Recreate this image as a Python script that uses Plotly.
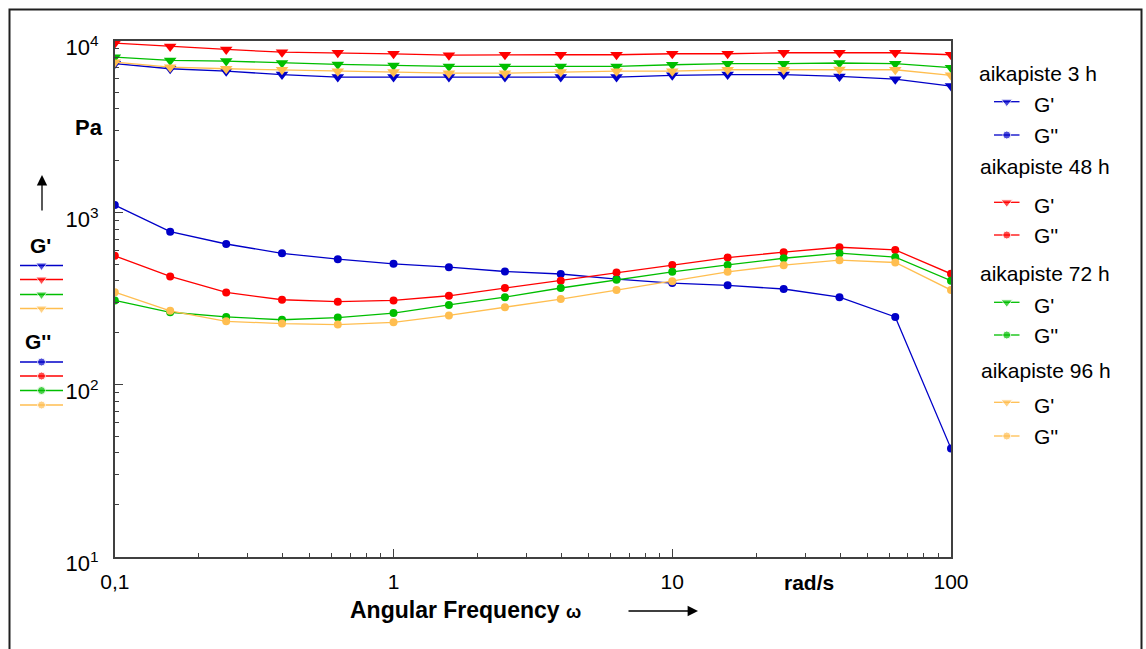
import plotly.graph_objects as go

# ---- data ----
freq = [0.1, 0.158, 0.251, 0.398, 0.631, 1.0, 1.58, 2.51, 3.98, 6.31,
        10.0, 15.8, 25.1, 39.8, 63.1, 100.0]

gp_3h = [7330, 6850, 6630, 6340, 6125, 6125, 6125, 6125, 6125, 6125,
         6270, 6340, 6340, 6180, 5960, 5430]
gpp_3h = [1105, 774, 656, 579, 535, 503, 481, 454, 439, 410,
          389, 377, 359, 322, 247, 42.4]
gp_48h = [9650, 9230, 8870, 8550, 8490, 8370, 8220, 8265, 8265, 8265,
          8374, 8374, 8490, 8490, 8490, 8265]
gpp_48h = [560, 425, 343, 311, 303, 308, 328, 364, 401, 448,
           496, 547, 588, 628, 606, 440]
gp_72h = [8000, 7660, 7590, 7390, 7260, 7160, 7070, 7070, 7070, 7070,
          7230, 7330, 7330, 7400, 7330, 6950]
gpp_72h = [308, 263, 247, 238, 245, 260, 290, 322, 364, 407,
           452, 496, 542, 580, 550, 401]
gp_96h = [7480, 7000, 6850, 6760, 6630, 6550, 6460, 6460, 6550, 6630,
          6630, 6760, 6760, 6790, 6760, 6270]
gpp_96h = [344, 268, 233, 226, 223, 230, 252, 281, 314, 354,
           399, 452, 494, 528, 512, 354]

groups = ["aikapiste 3 h", "aikapiste 48 h", "aikapiste 72 h", "aikapiste 96 h"]
storage = [gp_3h, gp_48h, gp_72h, gp_96h]
loss = [gpp_3h, gpp_48h, gpp_72h, gpp_96h]
series_names = ["G'", "G''"]

x_tickvals = [0.1, 1, 10, 100]
x_ticktext = ["0,1", "1", "10", "100"]
y_tickvals = [10, 100, 1000, 10000]
y_ticktext = ["10<sup>1</sup>", "10<sup>2</sup>", "10<sup>3</sup>", "10<sup>4</sup>"]

# ---- styles ----
colors = ["#0000C8", "#FF0000", "#00BE00", "#FFBE50"]
W, H = 1146, 649
FONT = "Liberation Sans, Arial, sans-serif"

fig = go.Figure()

for name, gp, gpp, c in zip(groups, storage, loss, colors):
    fig.add_trace(go.Scatter(
        x=freq, y=gp, mode="lines+markers", name=name + " G'",
        line=dict(color=c, width=1.3),
        marker=dict(symbol="triangle-down", size=11, color=c),
    ))
    fig.add_trace(go.Scatter(
        x=freq, y=gpp, mode="lines+markers", name=name + " G''",
        line=dict(color=c, width=1.3),
        marker=dict(symbol="circle", size=8, color=c),
    ))

# ---- keys drawn in pixel space on an invisible full-figure axis pair ----
def key(x0, x1, yy, c, sym, size):
    xm = (x0 + x1) / 2
    fig.add_trace(go.Scatter(
        x=[x0, xm, x1], y=[yy, yy, yy], xaxis="x2", yaxis="y2",
        mode="lines+markers", showlegend=False, hoverinfo="skip",
        line=dict(color=c, width=1.3),
        marker=dict(symbol=sym, size=[0, size, 0], color=c),
    ))

ann = []
# left key
gp_key_y = [265.5, 279.5, 294.5, 308.5]
gpp_key_y = [362, 376, 390.5, 405]
for yy, c in zip(gp_key_y, colors):
    key(20, 63, yy, c, "triangle-down", 10)
for yy, c in zip(gpp_key_y, colors):
    key(20, 63, yy, c, "circle", 8)

# right legend
title_y = [73.5, 166.5, 273.5, 370]
title_x = [977, 978, 978, 979]
entry_y = [(101.7, 135), (202.3, 235), (302.3, 335), (402.3, 436)]
for name, c, ty, tx, (y1, y2) in zip(groups, colors, title_y, title_x, entry_y):
    ann.append(dict(xref="x2", yref="y2", x=tx, y=ty, text=name, xanchor="left",
                    showarrow=False, font=dict(size=21, family=FONT)))
    key(994, 1019.5, y1, c, "triangle-down", 10)
    key(994, 1019.5, y2, c, "circle", 8)
    ann.append(dict(xref="x2", yref="y2", x=1032, y=y1 + 3, text=series_names[0],
                    xanchor="left", showarrow=False, font=dict(size=21, family=FONT)))
    ann.append(dict(xref="x2", yref="y2", x=1032, y=y2, text=series_names[1],
                    xanchor="left", showarrow=False, font=dict(size=21, family=FONT)))

minor_x = [m * 10 ** e for e in (-1, 0, 1) for m in range(2, 10)]
minor_y = [m * 10 ** e for e in (1, 2, 3) for m in range(2, 10)]

axis_col = "#404040"
fig.update_layout(
    width=W, height=H,
    margin=dict(l=0, r=0, t=0, b=0),
    paper_bgcolor="white", plot_bgcolor="rgba(0,0,0,0)",
    font=dict(family=FONT, color="black"),
    showlegend=False,
    xaxis=dict(
        type="log", range=[-1, 2], domain=[114.8 / W, 951 / W],
        tickmode="array", tickvals=x_tickvals, ticktext=x_ticktext,
        ticks="inside", ticklen=8, tickcolor=axis_col, tickwidth=1,
        minor=dict(tickvals=minor_x, ticks="inside", ticklen=4, tickcolor=axis_col),
        showgrid=False, zeroline=False,
        showline=True, linecolor=axis_col, linewidth=1.5, mirror=True,
        tickfont=dict(size=21, family=FONT), ticklabelstandoff=6,
        automargin=False,
    ),
    yaxis=dict(
        type="log", range=[1, 4], domain=[1 - 556.5 / H, 1 - 40.5 / H],
        tickmode="array", tickvals=y_tickvals, ticktext=y_ticktext,
        ticks="inside", ticklen=8, tickcolor=axis_col, tickwidth=1,
        minor=dict(tickvals=minor_y, ticks="inside", ticklen=4, tickcolor=axis_col),
        showgrid=False, zeroline=False,
        showline=True, linecolor=axis_col, linewidth=1.5, mirror=True,
        tickfont=dict(size=22, family=FONT), ticklabelstandoff=10,
        ticklabelshift=7,
        automargin=False,
    ),
    xaxis2=dict(domain=[0, 1], range=[0, W], visible=False, anchor="y2", fixedrange=True),
    yaxis2=dict(domain=[0, 1], range=[H, 0], visible=False, anchor="x2", fixedrange=True),
)

# frame around the whole figure
fig.add_shape(type="rect", xref="paper", yref="paper",
              x0=9.5 / W, x1=1141.5 / W, y0=-0.05, y1=1 - 9.5 / H,
              line=dict(color="#202020", width=2), layer="above")

ann.append(dict(xref="x2", yref="y2", x=89, y=127, text="<b>Pa</b>",
                showarrow=False, font=dict(size=22, family=FONT)))
ann.append(dict(xref="x2", yref="y2", x=40, y=245, text="<b>G'</b>",
                showarrow=False, font=dict(size=21, family=FONT)))
ann.append(dict(xref="x2", yref="y2", x=38, y=341, text="<b>G''</b>",
                showarrow=False, font=dict(size=21, family=FONT)))
ann.append(dict(xref="x2", yref="y2", x=809, y=582, text="<b>rad/s</b>",
                showarrow=False, font=dict(size=21, family=FONT)))
ann.append(dict(xref="x2", yref="y2", x=465, y=610,
                text="<b>Angular Frequency <span style='font-size:18px'>ω</span></b>",
                showarrow=False, font=dict(size=23, family=FONT)))
# arrows
ann.append(dict(xref="x2", yref="y2", axref="x2", ayref="y2",
                x=42, y=175, ax=42, ay=212, text="", showarrow=True,
                arrowhead=2, arrowsize=1.6, arrowwidth=1.3, arrowcolor="black"))
ann.append(dict(xref="x2", yref="y2", axref="x2", ayref="y2",
                x=698, y=611, ax=627, ay=611, text="", showarrow=True,
                arrowhead=2, arrowsize=1.6, arrowwidth=1.3, arrowcolor="black"))
fig.update_layout(annotations=ann)

fig.write_html("out.html", config={"displayModeBar": False},
               post_script="document.body.style.margin='0px';")
